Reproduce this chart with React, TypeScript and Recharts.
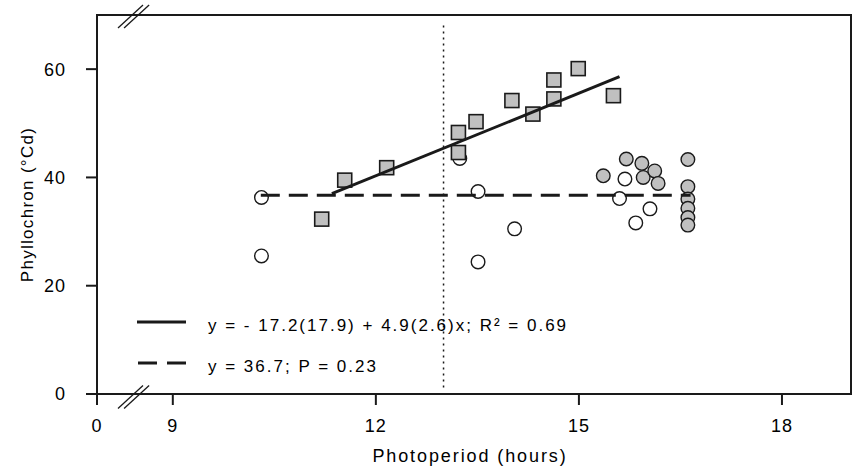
import React from 'react';
import { ScatterChart, Scatter, XAxis, YAxis, ReferenceLine, ReferenceArea } from 'recharts';

// photoperiod (h) vs phyllochron (°Cd)
const squares = [
  { x: 11.2, y: 32.3 },
  { x: 11.54, y: 39.5 },
  { x: 12.16, y: 41.8 },
  { x: 13.22, y: 48.3 },
  { x: 13.22, y: 44.6 },
  { x: 13.48, y: 50.3 },
  { x: 14.01, y: 54.2 },
  { x: 14.32, y: 51.7 },
  { x: 14.63, y: 58.0 },
  { x: 14.63, y: 54.5 },
  { x: 14.99, y: 60.1 },
  { x: 15.51, y: 55.1 },
];

const openCircles = [
  { x: 10.31, y: 36.3 },
  { x: 10.31, y: 25.5 },
  { x: 13.24, y: 43.5 },
  { x: 13.51, y: 37.4 },
  { x: 13.51, y: 24.4 },
  { x: 14.05, y: 30.5 },
  { x: 15.6, y: 36.1 },
  { x: 15.68, y: 39.7 },
  { x: 15.84, y: 31.6 },
  { x: 16.05, y: 34.2 },
];

const grayCircles = [
  { x: 15.36, y: 40.3 },
  { x: 15.7, y: 43.4 },
  { x: 15.93, y: 42.6 },
  { x: 15.95, y: 40.0 },
  { x: 16.12, y: 41.2 },
  { x: 16.17, y: 38.9 },
  { x: 16.61, y: 43.3 },
  { x: 16.61, y: 38.3 },
  { x: 16.61, y: 36.0 },
  { x: 16.61, y: 34.3 },
  { x: 16.61, y: 32.6 },
  { x: 16.61, y: 31.2 },
];

const fitLine = [
  { x: 11.35, y: 37.0 },
  { x: 15.6, y: 58.6 },
];
const meanLine = [
  { x: 10.3, y: 36.7 },
  { x: 16.65, y: 36.7 },
];

const xDomain = [7.88, 19.02];
const yDomain = [0, 70];
const xTicks = [7.88, 9, 12, 15, 18];
const yTicks = [0, 20, 40, 60];
const thresholdHours = 13;

// axis break "//" strokes, top and bottom
const breakMarks = [
  [{ x: 8.19, y: 67.6 }, { x: 8.56, y: 71.85 }],
  [{ x: 8.28, y: 67.6 }, { x: 8.65, y: 71.85 }],
  [{ x: 8.19, y: -2.67 }, { x: 8.56, y: 1.57 }],
  [{ x: 8.28, y: -2.67 }, { x: 8.65, y: 1.57 }],
];

const FONT = '"Liberation Sans", Arial, sans-serif';
const INK = '#1a1a1a';
const GREY = '#c0c0c0';

const Square = (p: any) => (
  <rect x={p.cx - 7} y={p.cy - 7} width={14} height={14} fill={GREY} stroke={INK} strokeWidth={1.6} />
);
const OpenDot = (p: any) => <circle cx={p.cx} cy={p.cy} r={6.8} fill="#fff" stroke={INK} strokeWidth={1.4} />;
const GreyDot = (p: any) => <circle cx={p.cx} cy={p.cy} r={6.8} fill={GREY} stroke={INK} strokeWidth={1.4} />;
const NoDot = () => <g />;

const tickStyle = { fill: '#000', fontSize: 18, fontFamily: FONT, letterSpacing: 1 };

const XTitle = (props: any) => {
  const vb = props.viewBox;
  return (
    <text x={vb.x + vb.width / 2 - 4} y={vb.y + 68} textAnchor="middle" fill="#000" fontSize={18} fontFamily={FONT} letterSpacing={1.9}>
      Photoperiod (hours)
    </text>
  );
};

const YTitle = (props: any) => {
  const vb = props.viewBox;
  const cx = 33;
  const cy = vb.y + vb.height / 2;
  return (
    <text x={cx} y={cy} transform={`rotate(-90 ${cx} ${cy})`} textAnchor="middle" fill="#000" fontSize={17} fontFamily={FONT} letterSpacing={1.3}>
      Phyllochron (°Cd)
    </text>
  );
};

const LegendBox = () => (
  <svg width={480} height={75} style={{ position: 'absolute', left: 137, top: 305 }}>
    <line x1={0} y1={17} x2={49} y2={17} stroke={INK} strokeWidth={3} />
    <text x={71} y={26} fill="#000" fontSize={17} fontFamily={FONT} letterSpacing={2}>
      y = - 17.2(17.9) + 4.9(2.6)x; R² = 0.69
    </text>
    <line x1={1} y1={58} x2={49} y2={58} stroke={INK} strokeWidth={3} strokeDasharray="19 10" />
    <text x={71} y={67} fill="#000" fontSize={17} fontFamily={FONT} letterSpacing={2}>
      y = 36.7; P = 0.23
    </text>
  </svg>
);

export default function App() {
  return (
    <div style={{ position: 'absolute', left: 0, top: 0, width: 853, height: 470, background: '#fff' }}>
      <ScatterChart width={853} height={470} margin={{ top: 15, right: 2, bottom: 0, left: 0 }}>
        <XAxis
          type="number"
          dataKey="x"
          domain={xDomain}
          ticks={xTicks}
          allowDataOverflow
          interval={0}
          height={76}
          tickSize={11}
          tickMargin={14}
          tick={tickStyle}
          tickFormatter={(v: number) => (v < 8 ? '0' : String(v))}
          axisLine={{ stroke: INK, strokeWidth: 2 }}
          tickLine={{ stroke: INK, strokeWidth: 2 }}
          label={{ content: XTitle }}
        />
        <YAxis
          type="number"
          dataKey="y"
          domain={yDomain}
          ticks={yTicks}
          allowDataOverflow
          interval={0}
          width={97}
          tickSize={11}
          tickMargin={20}
          tick={tickStyle}
          axisLine={{ stroke: INK, strokeWidth: 2 }}
          tickLine={{ stroke: INK, strokeWidth: 2 }}
          label={{ content: YTitle }}
        />
        <ReferenceArea x1={xDomain[0]} x2={xDomain[1]} y1={yDomain[0]} y2={yDomain[1]} fill="none" stroke={INK} strokeWidth={2} ifOverflow="visible" />
        <ReferenceLine
          segment={[{ x: thresholdHours, y: 1.2 }, { x: thresholdHours, y: 68.4 }]}
          stroke={INK}
          strokeWidth={1.5}
          strokeDasharray="2 4"
          ifOverflow="visible"
        />
        {breakMarks.map((seg, i) => (
          <ReferenceLine key={i} segment={seg} stroke={INK} strokeWidth={1.3} ifOverflow="visible" />
        ))}
        <Scatter data={openCircles} shape={OpenDot} isAnimationActive={false} />
        <Scatter data={grayCircles} shape={GreyDot} isAnimationActive={false} />
        <Scatter data={squares} shape={Square} isAnimationActive={false} />
        <Scatter data={fitLine} line={{ stroke: INK, strokeWidth: 3 }} shape={NoDot} isAnimationActive={false} />
        <Scatter data={meanLine} line={{ stroke: INK, strokeWidth: 3, strokeDasharray: '19 9' }} shape={NoDot} isAnimationActive={false} />
      </ScatterChart>
      <LegendBox />
    </div>
  );
}
